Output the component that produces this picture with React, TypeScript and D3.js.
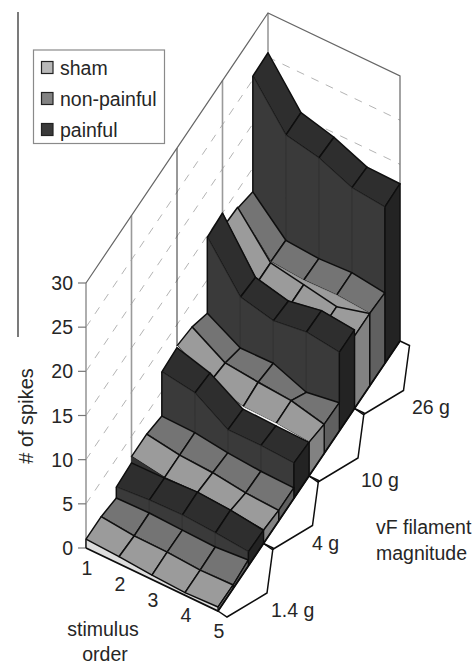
import React from "react";
import * as d3 from "d3";

const orderLabels = ["1", "2", "3", "4", "5"];
const magnitudeLabels = ["1.4 g", "4 g", "10 g", "26 g"];
const legendLabels = ["sham", "non-painful", "painful"];
const zTicks = [0, 5, 10, 15, 20, 25, 30];

// one row per magnitude (1.4, 4, 10, 26 g), five values per stimulus order
const shamFront = [
  [1.0, 0.8, 0.5, 0.3, 0.45],
  [2.7, 2.1, 2.2, 1.95, 1.5],
  [7.6, 5.3, 4.25, 4.15, 3.8],
  [13.3, 8.6, 7.9, 7.2, 8.2],
];
const shamBack = [
  [1.0, 0.6, 0.55, 0.3, 0.4],
  [2.7, 2.1, 1.9, 1.4, 1.2],
  [7.2, 4.9, 4.5, 4.2, 3.3],
  [13.1, 8.6, 7.9, 7.2, 8.2],
];
const nonFront = [
  [1.0, 0.6, 0.55, 0.3, 0.4],
  [2.7, 2.1, 1.9, 1.4, 1.2],
  [7.2, 4.9, 4.5, 4.2, 3.3],
  [13.0, 8.7, 8.4, 8.5, 8.2],
];
const nonBack = [
  [0.57, 0.65, 0.5, 0.37, 0.68],
  [2.2, 2.1, 1.6, 1.3, 1.2],
  [6.2, 4.05, 4.1, 2.6, 3.2],
  [12.3, 8.6, 8.3, 8.5, 8.0],
];
const painfulFront = [
  [1.8, 2.1, 2.2, 1.95, 1.6],
  [7.2, 6.6, 4.2, 4.2, 4.0],
  [14.8, 9.8, 8.9, 9.4, 8.9],
  [25.4, 20.5, 19.7, 18.1, 17.7],
];
const painfulBack = [
  [2.0, 2.05, 2.25, 2.0, 1.5],
  [7.4, 6.3, 4.0, 3.9, 3.8],
  [15.0, 9.5, 8.6, 9.3, 8.9],
  [25.5, 20.5, 19.5, 17.9, 17.8],
];

const FONT = "'Liberation Sans', Arial, sans-serif";
const INK = "#0e0e0e";
const TEXT = "#262626";
const TOP = { sham: "#9b9b9b", non: "#747474", painful: "#2e2e2e" };
const SIDE = { sham: "#828282", non: "#606060", painful: "#232323" };
const WALL = "#3a3a3a";
const WALL_LINE = "#2c2c2c";
const LEGEND_FILLS = ["#b8b8b8", "#828282", "#3a3a3a"];
// colour of the fold between one magnitude's painful band and the next sham band
const FOLD = ["#333333", "#ffffff", "#333333"];

const DEPTH = 12;
const xI = d3.scaleLinear().domain([0, 4]).range([0, 132]);
const yI = d3.scaleLinear().domain([0, 4]).range([0, 63]);
const xD = d3.scaleLinear().domain([0, DEPTH]).range([0, 182]);
const yD = d3.scaleLinear().domain([0, DEPTH]).range([0, -270]);
const yZ = d3.scaleLinear().domain([0, 30]).range([0, -265]);

const project = (i: number, d: number, z: number): [number, number] => [
  86 + xI(i) + xD(d),
  548 + yI(i) + yD(d) + yZ(z),
];
const line = d3.line();
const closed = (pts: [number, number][]) => line(pts) + "Z";

type Face = { path: string; fill: string; stroke: string; width: number };

const buildFaces = () => {
  const faces: Face[] = [];
  const orders = d3.range(4);
  const band = (d: number, front: number[], back: number[], kind: "sham" | "non" | "painful") => {
    orders.forEach((i) => {
      faces.push({
        path: closed([
          project(i, d, front[i]),
          project(i, d + 1, back[i]),
          project(i + 1, d + 1, back[i + 1]),
          project(i + 1, d, front[i + 1]),
        ]),
        fill: TOP[kind],
        stroke: INK,
        width: 1.5,
      });
    });
    faces.push({
      path: closed([
        project(4, d, front[4]),
        project(4, d + 1, back[4]),
        project(4, d + 1, 0),
        project(4, d, 0),
      ]),
      fill: SIDE[kind],
      stroke: INK,
      width: 1.3,
    });
  };
  const wall = (d: number, low: number[], high: number[], fill: string, edge: string) => {
    orders.forEach((i) => {
      faces.push({
        path: closed([
          project(i, d, low[i]),
          project(i, d, high[i]),
          project(i + 1, d, high[i + 1]),
          project(i + 1, d, low[i + 1]),
        ]),
        fill,
        stroke: edge,
        width: 0.8,
      });
    });
  };
  // painted from the back of the floor to the front
  for (let m = 3; m >= 0; m--) {
    const d = m * 3;
    band(d + 2, painfulFront[m], painfulBack[m], "painful");
    wall(d + 2, nonBack[m], painfulFront[m], WALL, WALL_LINE);
    band(d + 1, nonFront[m], nonBack[m], "non");
    wall(d + 1, shamBack[m], nonFront[m], TOP.sham, TOP.sham);
    band(d, shamFront[m], shamBack[m], "sham");
    if (m > 0) wall(d, painfulBack[m - 1], shamFront[m], FOLD[m - 1], FOLD[m - 1]);
  }
  return faces;
};

const App = () => {
  const faces = buildFaces();
  const floor = project(0, 0, 0);
  const corner = project(4, 0, 0);
  const farCorner = project(4, DEPTH, 0);
  const backLeftTop = project(0, DEPTH, 30);
  const backRightTop = project(4, DEPTH, 30);
  const frontLeftTop = project(0, 0, 30);

  // the tab under each magnitude, hung on the right edge of the floor
  const tabs = magnitudeLabels.map((_, m) => {
    const [x0, y0] = project(4, m * 3, 0);
    const [x1, y1] = project(4, m * 3 + 3, 0);
    return line([
      [x0, y0],
      [x0 + 9, y0 + 6],
      [x0 + 49, y0 - 18],
      [x0 + 55, y0 - 63],
      [x1, y1],
    ] as [number, number][]);
  });
  const magnitudePos = [
    [271, 617],
    [312, 550],
    [361, 487],
    [412, 414],
  ];

  return (
    <svg
      width={476}
      height={664}
      viewBox="0 0 476 664"
      style={{ position: "absolute", left: 0, top: 0, background: "#fff" }}
      fontFamily={FONT}
      fontSize={19.5}
      fill={TEXT}
    >
      <line x1={18} y1={12} x2={18} y2={337} stroke="#222" strokeWidth={1.2} />

      {/* walls */}
      <g fill="none">
        {zTicks.slice(1, -1).map((z) => (
          <g key={z} stroke="#b4b4b4" strokeWidth={1} strokeDasharray="8 8">
            <path d={line([project(0, 0, z), project(0, DEPTH, z)])!} />
            <path d={line([project(0, DEPTH, z), project(4, DEPTH, z)])!} />
          </g>
        ))}
        {[0, 3, 6, 9, 12].map((d, k) => (
          <line
            key={d}
            x1={project(0, d, 0)[0]}
            x2={project(0, d, 0)[0]}
            y1={project(0, d, 0)[1]}
            y2={project(0, d, 30)[1]}
            stroke={k === 2 ? "#333" : "#9a9a9a"}
            strokeWidth={k === 2 ? 1 : 1.6}
          />
        ))}
        <path
          d={line([frontLeftTop, backLeftTop, backRightTop, [farCorner[0], farCorner[1]]])!}
          stroke="#666"
          strokeWidth={1.2}
        />
        {zTicks.map((z) => (
          <line
            key={z}
            x1={78}
            x2={86}
            y1={project(0, 0, z)[1]}
            y2={project(0, 0, z)[1]}
            stroke="#777"
            strokeWidth={1.2}
          />
        ))}
      </g>

      {/* strip of floor left showing under the first sham band */}
      <path
        d={closed([
          project(0, 0, 0),
          ...d3.range(5).map((i) => project(i, 0, shamFront[0][i])),
          project(4, 0, 0),
        ])}
        fill="#dedede"
        stroke="none"
      />

      {faces.map((f, k) => (
        <path
          key={k}
          d={f.path}
          fill={f.fill}
          stroke={f.stroke}
          strokeWidth={f.width}
          strokeLinejoin="round"
        />
      ))}

      {/* edges of the painful walls and of the floor */}
      <g stroke={INK} fill="none" strokeWidth={1.4}>
        {painfulFront.map((row, m) => (
          <path
            key={m}
            d={line([project(0, m * 3 + 2, nonBack[m][0]), project(0, m * 3 + 2, row[0])])!}
          />
        ))}
        {painfulFront.map((row, m) => (
          <path
            key={m}
            d={line([project(4, m * 3 + 2, nonBack[m][4]), project(4, m * 3 + 2, row[4])])!}
          />
        ))}
        <path d={line([floor, project(0, 0, shamFront[0][0])])!} />
        <path d={line([floor, corner, farCorner])!} strokeWidth={1.8} />
        {tabs.map((d, m) => (
          <path key={m} d={d!} strokeWidth={1.5} />
        ))}
      </g>

      {/* axis text */}
      <g textAnchor="end">
        {zTicks.map((z) => (
          <text key={z} x={73} y={project(0, 0, z)[1] + 7}>
            {z}
          </text>
        ))}
      </g>
      <text transform="translate(33,416) rotate(-90)" textAnchor="middle" fontSize={20}>
        # of spikes
      </text>
      <g textAnchor="middle">
        {orderLabels.map((label, i) => {
          const [x, y] = project(i, 0, 0);
          return (
            <text key={label} x={x + 1} y={y + 27}>
              {label}
            </text>
          );
        })}
        <text x={103} y={636}>
          stimulus
        </text>
        <text x={105} y={661}>
          order
        </text>
      </g>
      {magnitudeLabels.map((label, m) => (
        <text key={label} x={magnitudePos[m][0]} y={magnitudePos[m][1]}>
          {label}
        </text>
      ))}
      <text x={376} y={534}>
        vF filament
      </text>
      <text x={376} y={560}>
        magnitude
      </text>

      {/* legend */}
      <rect x={33.5} y={50} width={131} height={93.5} fill="#fff" stroke="#8a8a8a" strokeWidth={1.2} />
      {legendLabels.map((label, k) => (
        <g key={label}>
          <rect
            x={41.5}
            y={61.5 + k * 31}
            width={11.5}
            height={12}
            fill={LEGEND_FILLS[k]}
            stroke="#222"
            strokeWidth={1.2}
          />
          <text x={60} y={74.5 + k * 31}>
            {label}
          </text>
        </g>
      ))}
    </svg>
  );
};

export default App;
